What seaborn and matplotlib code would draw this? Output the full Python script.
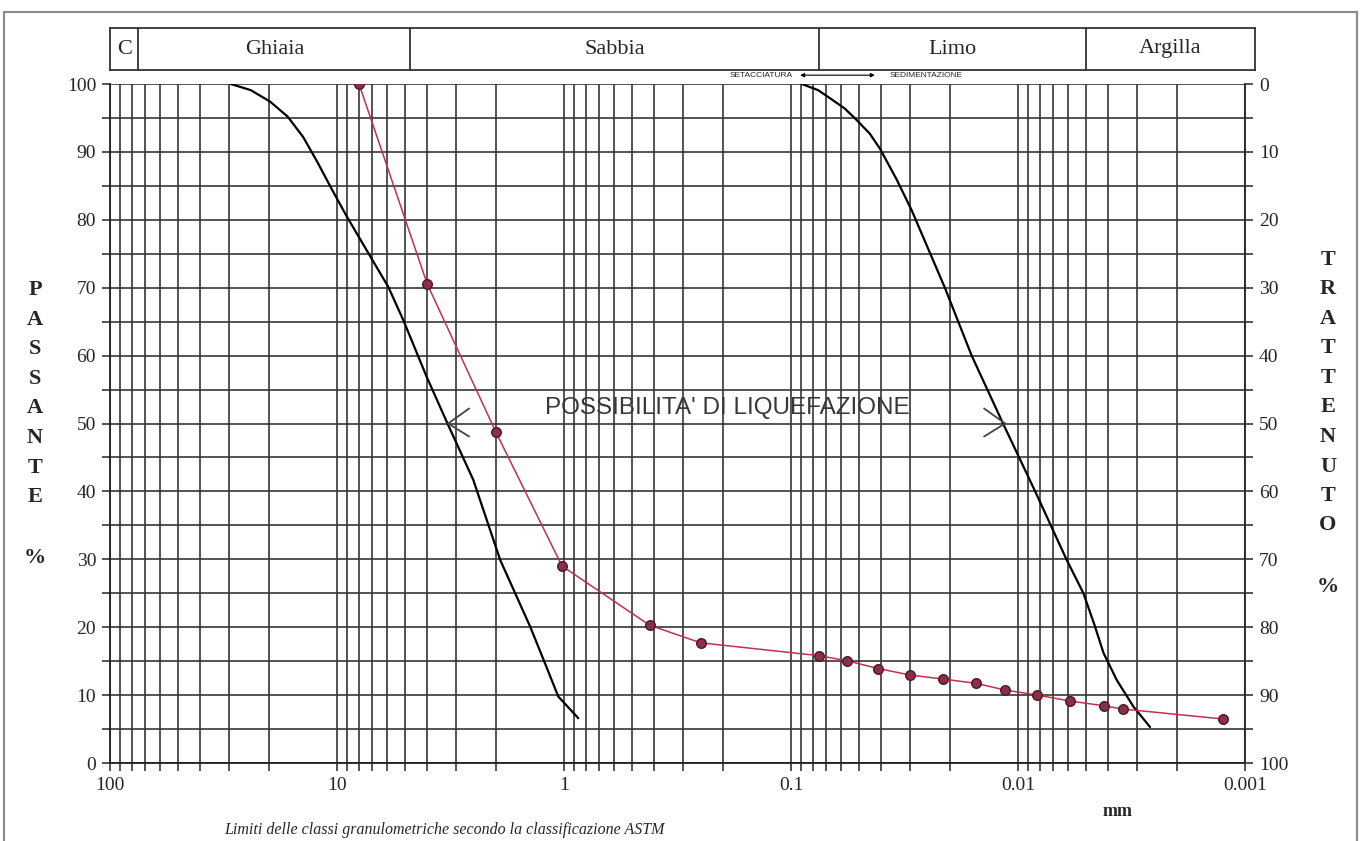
import numpy as np
import pandas as pd
import matplotlib
matplotlib.use("Agg")
import matplotlib.pyplot as plt
from matplotlib.patches import Rectangle
from matplotlib.ticker import FixedLocator, FixedFormatter, LogLocator, NullFormatter, MultipleLocator
import seaborn as sns

# classi granulometriche ASTM (limiti in mm)
class_names = ["C", "Ghiaia", "Sabbia", "Limo", "Argilla"]
class_limits = [100, 75, 4.75, 0.075, 0.005, 0.0009]

# fuso granulometrico - limite grossolano (mm, % passante)
fuso_sx_d = [29.4, 24, 19.7, 16.5, 14.1, 12.2, 10.5, 9.06, 5.94, 5.1, 4.03, 3.24, 2.51,
             1.91, 1.41, 1.23, 1.06, 0.865]
fuso_sx_p = [100, 99.1, 97.4, 95.2, 92.2, 88.5, 84.4, 80.5, 70.1, 65.2, 56.9, 49.8, 41.7,
             29.9, 20.1, 15.2, 9.8, 6.6]

# fuso granulometrico - limite fine
fuso_dx_d = [0.0897, 0.076, 0.0673, 0.058, 0.0514, 0.045, 0.0406, 0.0342, 0.0294, 0.021,
             0.016, 0.01164, 0.0084, 0.0061, 0.00515, 0.0046, 0.0042, 0.00367, 0.0031, 0.00262]
fuso_dx_p = [100, 99.1, 97.9, 96.4, 94.7, 92.7, 90.5, 85.9, 81.4, 70, 60, 50, 40, 29.9, 25,
             20.3, 16.2, 12.2, 8.3, 5.3]

# campione: setacciatura + sedimentazione
camp_d = [8, 4, 2, 1.02, 0.42, 0.25, 0.075, 0.0569, 0.0412, 0.0299, 0.0215, 0.01535,
          0.0114, 0.00822, 0.0059, 0.0042, 0.00346, 0.00125]
camp_p = [100, 70.5, 48.8, 29.0, 20.3, 17.7, 15.8, 15.07, 13.9, 12.96, 12.37, 11.74,
          10.75, 10.0, 9.13, 8.44, 7.95, 6.48]

x_ticks = [100, 10, 1, 0.1, 0.01, 0.001]
x_tick_labels = ["100", "10", "1", "0.1", "0.01", "0.001"]
y_ticks = list(range(0, 101, 10))

# punte delle frecce "possibilita' di liquefazione" (mm, %)
arrow_tips_d = [3.24, 0.0114]
arrow_y = 50

sns.set_style("white")
plt.rcParams["font.family"] = ["Liberation Serif", "DejaVu Serif"]

W, H = 1362, 841
fig = plt.figure(figsize=(W / 100, H / 100), dpi=100)
ax = fig.add_axes([110 / W, 78 / H, 1135 / W, 679 / H])

ax.set_xscale("log")
ax.set_xlim(100, 0.001)
ax.set_ylim(0, 100)

gridc = "#363636"
ax.xaxis.set_major_locator(FixedLocator(x_ticks))
ax.xaxis.set_major_formatter(FixedFormatter(x_tick_labels))
ax.xaxis.set_minor_locator(LogLocator(base=10, subs=np.arange(2, 10), numticks=30))
ax.xaxis.set_minor_formatter(NullFormatter())
ax.yaxis.set_major_locator(FixedLocator(y_ticks))
ax.yaxis.set_minor_locator(MultipleLocator(5))
ax.grid(True, which="both", color=gridc, lw=1.2)
ax.set_axisbelow(True)
ax.tick_params(which="both", direction="out", length=6, width=1.2, color=gridc,
               labelsize=14, bottom=True, left=True, top=False, right=False, pad=4)
for s in ax.spines.values():
    s.set_color("#222222")
    s.set_linewidth(1.3)
ax.spines["top"].set_visible(False)

# asse destro: trattenuto
ax2 = ax.twinx()
ax2.set_ylim(100, 0)
ax2.yaxis.set_major_locator(FixedLocator(y_ticks))
ax2.yaxis.set_minor_locator(MultipleLocator(5))
ax2.tick_params(which="both", direction="out", length=6, width=1.2, color=gridc,
                labelsize=14, right=True, pad=4)
for s in ax2.spines.values():
    s.set_visible(False)

# curve
df_sx = pd.DataFrame({"d": fuso_sx_d, "p": fuso_sx_p})
df_dx = pd.DataFrame({"d": fuso_dx_d, "p": fuso_dx_p})
df_c = pd.DataFrame({"d": camp_d, "p": camp_p})
sns.lineplot(data=df_sx, x="d", y="p", sort=False, color="black", lw=1.6, ax=ax)
sns.lineplot(data=df_dx, x="d", y="p", sort=False, color="black", lw=1.6, ax=ax)
sns.lineplot(data=df_c, x="d", y="p", sort=False, color="#c2304e", lw=1.1, ax=ax)
sns.scatterplot(data=df_c, x="d", y="p", color="#8a2f45", edgecolor="#4a1a28", s=48,
                linewidth=1.0, zorder=5, ax=ax)
ax.set_xlabel("")
ax.set_ylabel("")

ax.text(0.19, 52.3, "POSSIBILITA' DI LIQUEFAZIONE", fontsize=17.5, color="#383838",
        family=["Liberation Sans", "DejaVu Sans"], ha="center", va="center")
for tip, side in zip(arrow_tips_d, [1, -1]):
    for dy in (15, -13):
        ax.annotate("", xy=(tip, arrow_y), xytext=(side * 21, dy), textcoords="offset pixels",
                    arrowprops=dict(arrowstyle="-", color="#444444", lw=1.3, shrinkA=0, shrinkB=0))

# setacciatura / sedimentazione
ax.text(0.098, 101.3, "SETACCIATURA", fontsize=6, ha="right", va="center", clip_on=False,
        family=["Liberation Sans", "DejaVu Sans"])
ax.text(0.0366, 101.3, "SEDIMENTAZIONE", fontsize=6, ha="left", va="center", clip_on=False,
        family=["Liberation Sans", "DejaVu Sans"])
ax.annotate("", xy=(0.0912, 101.3), xytext=(0.0427, 101.3), annotation_clip=False,
            arrowprops=dict(arrowstyle="<|-|>", color="black", lw=0.8, mutation_scale=6,
                            shrinkA=0, shrinkB=0))

# intestazione classi
hx = fig.add_axes([110 / W, (H - 70) / H, 1145 / W, 42 / H])
hx.set_xscale("log")
hx.set_xlim(class_limits[0], class_limits[-1])
hx.set_ylim(0, 1)
hx.set_xticks([])
hx.set_yticks([])
hx.minorticks_off()
for s in hx.spines.values():
    s.set_color("#333333")
    s.set_linewidth(1.3)
for lim in class_limits[1:-1]:
    hx.axvline(lim, color="#333333", lw=1.3)
for name, a, b in zip(class_names, class_limits[:-1], class_limits[1:]):
    hx.text(np.sqrt(a * b), 0.5, name, ha="center", va="center", fontsize=16)

# titoli assi verticali
for i, ch in enumerate("PASSANTE"):
    fig.text(35 / W, 1 - (290 + i * 29.6) / H, ch, ha="center", va="center",
             fontsize=16, fontweight="bold")
fig.text(35 / W, 1 - 558 / H, "%", ha="center", va="center", fontsize=16, fontweight="bold")
for i, ch in enumerate("TRATTENUTO"):
    fig.text(1328 / W, 1 - (260 + i * 29.5) / H, ch, ha="center", va="center",
             fontsize=16, fontweight="bold")
fig.text(1328 / W, 1 - 587 / H, "%", ha="center", va="center", fontsize=16, fontweight="bold")

fig.text(1118 / W, 1 - 812 / H, "mm", ha="center", va="center", fontsize=13, fontweight="bold")
fig.text(444 / W, 1 - 830 / H, "Limiti delle classi granulometriche secondo la classificazione ASTM",
         ha="center", va="center", fontsize=11.5, style="italic")

fig.patches.append(Rectangle((4 / W, -0.02), 1353 / W, (H - 12) / H + 0.02, transform=fig.transFigure,
                             fill=False, edgecolor="#8c8c8c", lw=1.6))

fig.savefig("out.png", dpi=100)
